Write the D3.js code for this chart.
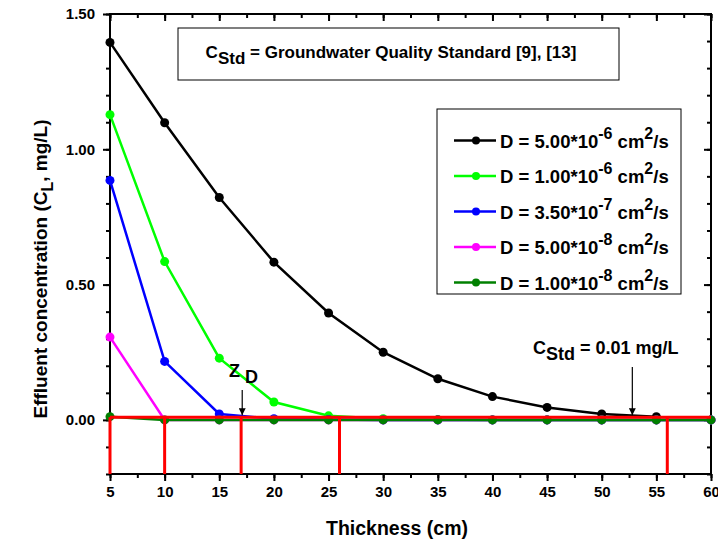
<!DOCTYPE html>
<html>
<head>
<meta charset="utf-8">
<script src="https://cdn.jsdelivr.net/npm/d3@7/dist/d3.min.js"></script>
<style>
  body { margin: 0; background: #fff; }
  svg { font-family: Arial, "Liberation Sans", sans-serif; font-weight: bold; }
</style>
</head>
<body>
<svg id="chart" width="718" height="542"></svg>
<script>
// thickness values (cm)
const thickness = [5, 10, 15, 20, 25, 30, 35, 40, 45, 50, 55, 60];

// effluent concentration for each diffusion coefficient
const d5e6 = [1.395, 1.098, 0.822, 0.583, 0.395, 0.250, 0.152, 0.086, 0.046, 0.022, 0.012];
const d1e6 = [1.128, 0.585, 0.228, 0.066, 0.015, 0.004, 0.001, 0, 0, 0, 0, 0];
const d35e7 = [0.885, 0.216, 0.022, 0.004, 0.001, 0, 0, 0, 0, 0, 0, 0];
const d5e8 = [0.306, 0.0, 0, 0, 0, 0, 0, 0, 0, 0, 0, 0];
const d1e8 = [0.012, 0, 0, 0, 0, 0, 0, 0, 0, 0, 0, 0];

const seriesNames = ["5.00*10|-6", "1.00*10|-6", "3.50*10|-7", "5.00*10|-8", "1.00*10|-8"];
const seriesColors = ["#000000", "#00ff00", "#0000ff", "#ff00ff", "#008000"];

// groundwater standard and the thicknesses where each curve meets it
const cStd = 0.01;
const zD = [5, 10, 17, 26, 56];

const xTicks = [5, 10, 15, 20, 25, 30, 35, 40, 45, 50, 55, 60];
const yTicks = [0, 0.5, 1.0, 1.5];

const svg = d3.select("#chart");
const x = d3.scaleLinear().domain([5, 60]).range([110, 711]);
const y = d3.scaleLinear().domain([-0.2, 1.5]).range([474, 14]);

const xMinor = d3.range(5, 60.01, 2.5);
const yMinor = d3.range(-0.2, 1.501, 0.1).map(v => Math.round(v * 10) / 10);

function styleAxis(g) {
  g.select(".domain").remove();
  g.selectAll("line").attr("stroke", "#000").attr("stroke-width", 2);
}

// minor ticks
svg.append("g").attr("transform", "translate(0,474)")
  .call(d3.axisBottom(x).tickValues(xMinor).tickSize(4).tickFormat(""))
  .call(styleAxis);
svg.append("g").attr("transform", "translate(0,14)")
  .call(d3.axisBottom(x).tickValues(xMinor).tickSize(4).tickFormat(""))
  .call(styleAxis);
svg.append("g").attr("transform", "translate(110,0)")
  .call(d3.axisLeft(y).tickValues(yMinor).tickSize(4).tickFormat(""))
  .call(styleAxis);
svg.append("g").attr("transform", "translate(711,0)")
  .call(d3.axisLeft(y).tickValues(yMinor).tickSize(4).tickFormat(""))
  .call(styleAxis);

// major ticks
svg.append("g").attr("transform", "translate(0,474)")
  .call(d3.axisBottom(x).tickValues(xTicks).tickSize(7).tickPadding(5).tickFormat(d3.format("d")))
  .call(styleAxis);
svg.append("g").attr("transform", "translate(0,14)")
  .call(d3.axisBottom(x).tickValues(xTicks).tickSize(7).tickFormat(""))
  .call(styleAxis);
svg.append("g").attr("transform", "translate(110,0)")
  .call(d3.axisLeft(y).tickValues(yTicks).tickSize(7).tickPadding(8).tickFormat(d3.format(".2f")))
  .call(styleAxis);
svg.append("g").attr("transform", "translate(711,0)")
  .call(d3.axisLeft(y).tickValues(yTicks).tickSize(7).tickFormat(""))
  .call(styleAxis);
svg.selectAll("g.tick text")
  .attr("fill", "#000").style("font-size", "15px").style("font-weight", "bold")
  .style("font-family", "Arial, 'Liberation Sans', sans-serif");

// frame
svg.append("rect").attr("x", 110).attr("y", 14).attr("width", 601).attr("height", 460)
  .attr("fill", "none").attr("stroke", "#000").attr("stroke-width", 2);

// series
const allSeries = [d5e6, d1e6, d35e7, d5e8, d1e8];
const line = d3.line().x((d, i) => x(thickness[i])).y(d => y(d));
const plot = svg.append("g");
allSeries.forEach((vals, k) => {
  const g = plot.append("g");
  g.append("path").attr("d", line(vals)).attr("fill", "none")
    .attr("stroke", seriesColors[k]).attr("stroke-width", 2.5);
  g.selectAll("circle").data(vals).join("circle")
    .attr("cx", (d, i) => x(thickness[i])).attr("cy", d => y(d))
    .attr("r", 4.5).attr("fill", seriesColors[k]);
});

// standard line and drop lines
svg.append("line").attr("x1", x(5)).attr("x2", x(60)).attr("y1", y(cStd)).attr("y2", y(cStd))
  .attr("stroke", "#ff0000").attr("stroke-width", 3);
svg.selectAll(".drop").data(zD).join("line").attr("class", "drop")
  .attr("x1", d => x(d)).attr("x2", d => x(d))
  .attr("y1", y(cStd)).attr("y2", y(-0.2))
  .attr("stroke", "#ff0000").attr("stroke-width", 3);

// arrows
svg.append("defs").append("marker").attr("id", "arrow")
  .attr("viewBox", "0 0 10 10").attr("refX", 10).attr("refY", 5)
  .attr("markerWidth", 7).attr("markerHeight", 7).attr("orient", "auto")
  .attr("markerUnits", "userSpaceOnUse")
  .append("path").attr("d", "M0,0 L10,5 L0,10 Z").attr("fill", "#000");

svg.append("line").attr("x1", x(17.1)).attr("x2", x(17.1)).attr("y1", 390).attr("y2", y(cStd) - 2)
  .attr("stroke", "#000").attr("stroke-width", 1.2).attr("marker-end", "url(#arrow)");
svg.append("line").attr("x1", x(52.8)).attr("x2", x(52.8)).attr("y1", 367).attr("y2", y(cStd) - 2)
  .attr("stroke", "#000").attr("stroke-width", 1.2).attr("marker-end", "url(#arrow)");

// Z_D label
const zt = svg.append("text").attr("x", 229).attr("y", 377).style("font-size", "18px");
zt.append("tspan").text("Z");
zt.append("tspan").attr("dx", 5).attr("dy", 6).text("D");

// C_Std label
const ct = svg.append("text").attr("x", 533).attr("y", 354).style("font-size", "18px");
ct.append("tspan").text("C");
ct.append("tspan").attr("dy", 6).text("Std");
ct.append("tspan").attr("dy", -6).text(" = 0.01 mg/L");

// top note box
svg.append("rect").attr("x", 178).attr("y", 28).attr("width", 441).attr("height", 52)
  .attr("fill", "#fff").attr("stroke", "#000").attr("stroke-width", 1);
const nt = svg.append("text").attr("x", 391).attr("y", 58).attr("text-anchor", "middle")
  .style("font-size", "17px");
nt.append("tspan").text("C");
nt.append("tspan").attr("dy", 6).text("Std");
nt.append("tspan").attr("dy", -6).text(" = Groundwater Quality Standard [9], [13]");

// legend
const leg = svg.append("g");
leg.append("rect").attr("x", 437).attr("y", 109).attr("width", 244).attr("height", 185)
  .attr("fill", "#fff").attr("stroke", "#000").attr("stroke-width", 1);
seriesNames.forEach((name, k) => {
  const yy = 140.5 + k * 35.5;
  leg.append("line").attr("x1", 454).attr("x2", 496).attr("y1", yy).attr("y2", yy)
    .attr("stroke", seriesColors[k]).attr("stroke-width", 2.5);
  leg.append("circle").attr("cx", 476).attr("cy", yy).attr("r", 4).attr("fill", seriesColors[k]);
  const [base, exp] = name.split("|");
  const t = leg.append("text").attr("x", 500).attr("y", yy + 7).style("font-size", "18.5px");
  t.append("tspan").text("D = " + base);
  t.append("tspan").attr("dy", -9).style("font-size", "16px").text(exp);
  t.append("tspan").attr("dy", 9).text(" cm");
  t.append("tspan").attr("dy", -9).style("font-size", "16px").text("2");
  t.append("tspan").attr("dy", 9).text("/s");
});

// axis titles
svg.append("text").attr("x", 397).attr("y", 535).attr("text-anchor", "middle")
  .style("font-size", "19.5px").text("Thickness (cm)");
const yt = svg.append("text").attr("transform", "translate(47,269) rotate(-90)")
  .attr("text-anchor", "middle").style("font-size", "19px");
yt.append("tspan").text("Effluent concentration (C");
yt.append("tspan").attr("dy", 6).style("font-size", "16px").text("L");
yt.append("tspan").attr("dy", -6).text(", mg/L)");
</script>
</body>
</html>
